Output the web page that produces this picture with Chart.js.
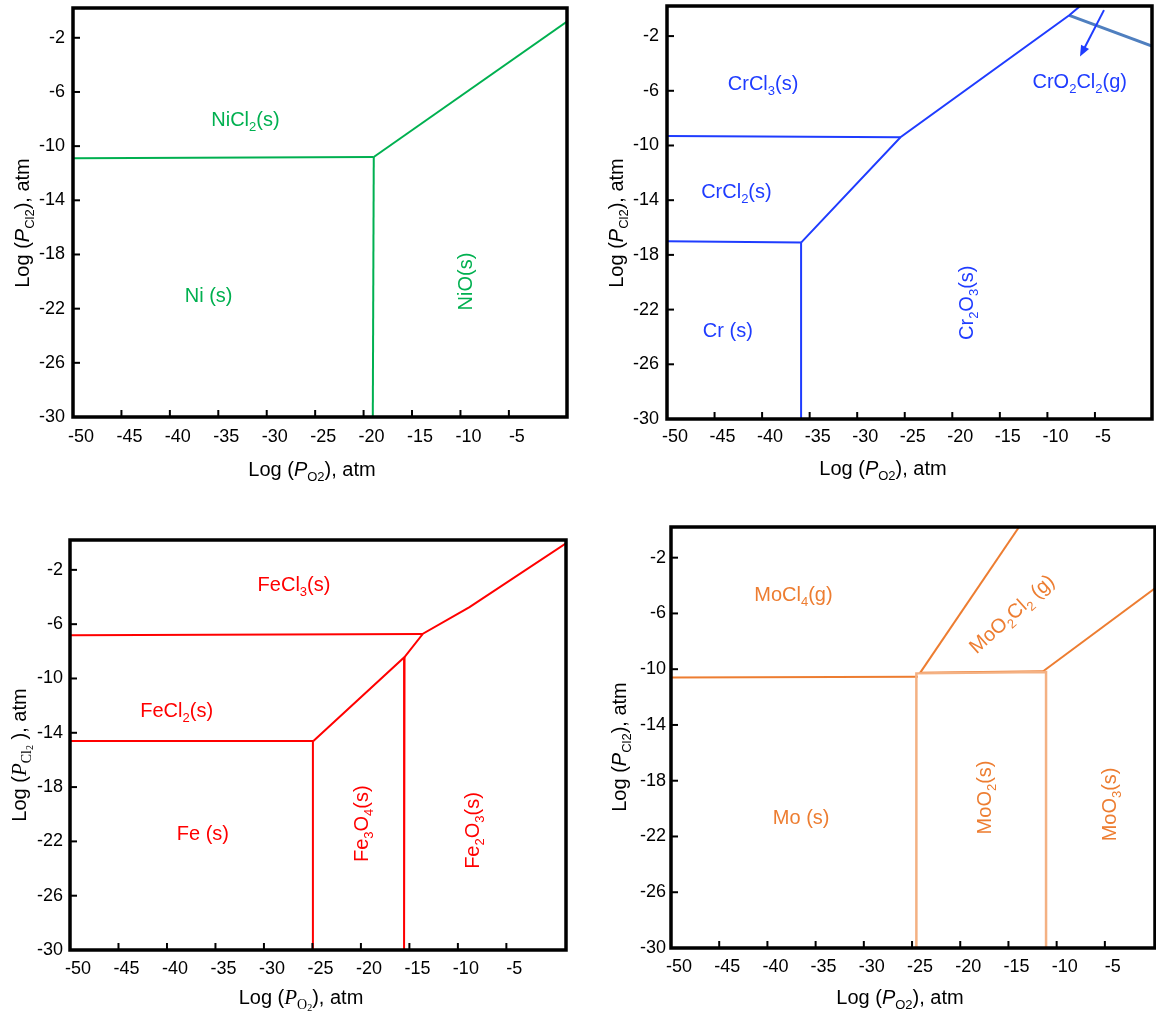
<!DOCTYPE html>
<html>
<head>
<meta charset="utf-8">
<script src="https://cdn.jsdelivr.net/npm/chart.js@4.4.1/dist/chart.umd.min.js"></script>
<style>
  body { margin: 0; background: #fff; }
  #wrap { position: relative; width: 1156px; height: 1012px; background: #fff; }
  canvas { position: absolute; }
</style>
</head>
<body>
<div id="wrap">
  <canvas id="ni" width="578" height="505" style="left:0;top:0"></canvas>
  <canvas id="cr" width="578" height="505" style="left:578px;top:0"></canvas>
  <canvas id="fe" width="578" height="507" style="left:0;top:505px"></canvas>
  <canvas id="mo" width="578" height="507" style="left:578px;top:505px"></canvas>
</div>
<script>
// ticks shared by the four diagrams
const xTicks = [-50, -45, -40, -35, -30, -25, -20, -15, -10, -5];
const yTicks = [-30, -26, -22, -18, -14, -10, -6, -2];

// Ni-O-Cl boundaries, points are [log pO2, log pCl2]
const niChlorideMetal = [[-50, -10.9], [-18.95, -10.8]];
const niMetalOxide = [[-18.95, -10.8], [-19.05, -30]];
const niChlorideOxide = [[-18.95, -10.8], [1, -0.8]];
const niLabels = ['NiCl_2(s)', 'Ni (s)', 'NiO(s)'];
const niLabelX = [-32.2, -36.0, -9.6];
const niLabelY = [-8.0, -21.0, -20.0];

// Cr-O-Cl boundaries
const crTriDi = [[-50, -9.3], [-25.45, -9.4]];
const crDiMetal = [[-50, -17.0], [-35.9, -17.1]];
const crMetalOxide = [[-35.9, -17.1], [-35.9, -30]];
const crChlorideOxide = [[-35.9, -17.1], [-25.45, -9.4], [-7.7, -0.48], [-6.55, 0.2]];
const crOxychloride = [[-7.7, -0.48], [1, -2.74]];
const crArrow = [[-4.05, -0.1], [-6.57, -3.5]];
const crLabels = ['CrCl_3(s)', 'CrO_2Cl_2(g)', 'CrCl_2(s)', 'Cr (s)', 'Cr_2O_3(s)'];
const crLabelX = [-39.9, -6.6, -42.7, -43.6, -18.6];
const crLabelY = [-5.4, -5.3, -13.3, -23.5, -21.5];

// Fe-O-Cl boundaries
const feTriDi = [[-50, -6.82], [-13.6, -6.72]];
const feDiMetal = [[-50, -14.6], [-24.9, -14.6]];
const feMetalOxide = [[-24.95, -14.6], [-24.95, -30]];
const feMagHem = [[-15.5, -8.42], [-15.55, -30]];
const feChlorideOxide = [[-24.9, -14.6], [-15.5, -8.42], [-13.6, -6.7], [-8.8, -4.75], [1.15, -0.05]];
const feLabels = ['FeCl_3(s)', 'FeCl_2(s)', 'Fe (s)', 'Fe_3O_4(s)', 'Fe_2O_3(s)'];
const feLabelX = [-26.9, -39.0, -36.3, -20.0, -8.6];
const feLabelY = [-3.0, -12.3, -21.4, -20.7, -21.2];

// Mo-O-Cl boundaries
const moChlorideMetal = [[-50, -10.6], [-24.4, -10.55]];
const moDioxideTop = [[-24.2, -10.25], [-11.3, -10.15]];
const moDioxideBox = [[-24.55, -30], [-24.55, -10.3], [-11.1, -10.2], [-11.1, -30]];
const moChlorideOxychloride = [[-24.2, -10.3], [-13.9, 0.2]];
const moOxychlorideTrioxide = [[-11.4, -10.15], [0.2, -4.2]];
const moLabels = ['MoCl_4(g)', 'MoO_2Cl_2 (g)', 'Mo (s)', 'MoO_2(s)', 'MoO_3(s)'];
const moLabelX = [-37.3, -14.7, -36.5, -17.6, -4.6];
const moLabelY = [-4.6, -6.0, -20.6, -19.2, -19.7];

const sansX = [['Log (', 'n'], ['P', 'i'], ['O2', 's'], ['), atm', 'n']];
const sansY = [['Log (', 'n'], ['P', 'i'], ['Cl2', 's'], ['), atm', 'n']];
const serifX = [['Log (', 'n'], ['P', 'I'], ['O', 'S'], ['2', 'T'], ['), atm', 'n']];
const serifY = [['Log (', 'n'], ['P', 'I'], ['Cl', 'S'], ['2', 'T'], [' ), atm', 'n']];

const GREEN = '#00b050', BLUE = '#1f3cff', RED = '#ff0000',
      ORANGE = '#ed7d31', PEACH = '#f4b183', STEEL = '#4f7fbf';

function fontFor(style, size) {
  switch (style) {
    case 'i': return { font: `italic ${size}px "Liberation Sans"`, dy: 0 };
    case 's': return { font: `${Math.round(size * 0.64)}px "Liberation Sans"`, dy: size * 0.25 };
    case 'I': return { font: `italic ${size * 1.05}px "Liberation Serif"`, dy: 0 };
    case 'S': return { font: `${Math.round(size * 0.72)}px "Liberation Serif"`, dy: size * 0.25 };
    case 'T': return { font: `${Math.round(size * 0.5)}px "Liberation Serif"`, dy: size * 0.33 };
    default: return { font: `${size}px "Liberation Sans"`, dy: 0 };
  }
}

// draws text made of [text, style] pieces centred on (x, y)
function drawRich(ctx, segs, x, y, size, angle, color) {
  ctx.save();
  ctx.translate(x, y);
  ctx.rotate(angle * Math.PI / 180);
  ctx.fillStyle = color;
  ctx.textAlign = 'left';
  ctx.textBaseline = 'alphabetic';
  let w = 0;
  const parts = segs.map(([t, s]) => {
    const f = fontFor(s, size);
    ctx.font = f.font;
    const pw = ctx.measureText(t).width;
    w += pw;
    return { t, f, pw };
  });
  let cx = -w / 2;
  parts.forEach(p => {
    ctx.font = p.f.font;
    ctx.fillText(p.t, cx, size * 0.36 + p.f.dy);
    cx += p.pw;
  });
  ctx.restore();
}

// "_x" marks a one character subscript
function parseLabel(str) {
  const segs = [];
  for (let i = 0; i < str.length; i++) {
    if (str[i] === '_') { segs.push([str[i + 1], 's']); i++; }
    else segs.push([str[i], 'n']);
  }
  return segs;
}

function makeDecor(cfg) {
  return {
    id: 'decor',
    afterDatasetsDraw(chart) {
      const { ctx, chartArea: a, scales: { x, y } } = chart;
      ctx.save();
      ctx.strokeStyle = '#000';
      ctx.lineWidth = 2;
      xTicks.forEach(v => {
        const px = x.getPixelForValue(v);
        ctx.beginPath(); ctx.moveTo(px, a.bottom); ctx.lineTo(px, a.bottom - 7); ctx.stroke();
      });
      yTicks.forEach(v => {
        const py = y.getPixelForValue(v);
        ctx.beginPath(); ctx.moveTo(a.left, py); ctx.lineTo(a.left + 7, py); ctx.stroke();
      });
      ctx.lineWidth = 3.5;
      ctx.strokeRect(a.left, a.top, a.right - a.left, a.bottom - a.top);

      if (cfg.arrow) {
        const x0 = x.getPixelForValue(cfg.arrow[0][0]), y0 = y.getPixelForValue(cfg.arrow[0][1]);
        const x1 = x.getPixelForValue(cfg.arrow[1][0]), y1 = y.getPixelForValue(cfg.arrow[1][1]);
        const ang = Math.atan2(y1 - y0, x1 - x0);
        ctx.strokeStyle = cfg.color; ctx.fillStyle = cfg.color; ctx.lineWidth = 2;
        ctx.beginPath(); ctx.moveTo(x0, y0);
        ctx.lineTo(x1 - 8 * Math.cos(ang), y1 - 8 * Math.sin(ang)); ctx.stroke();
        ctx.beginPath();
        ctx.moveTo(x1, y1);
        ctx.lineTo(x1 - 11 * Math.cos(ang) + 4.5 * Math.sin(ang), y1 - 11 * Math.sin(ang) - 4.5 * Math.cos(ang));
        ctx.lineTo(x1 - 11 * Math.cos(ang) - 4.5 * Math.sin(ang), y1 - 11 * Math.sin(ang) + 4.5 * Math.cos(ang));
        ctx.closePath(); ctx.fill();
      }

      cfg.labels.forEach((t, i) => {
        drawRich(ctx, parseLabel(t), x.getPixelForValue(cfg.labelX[i]), y.getPixelForValue(cfg.labelY[i]),
          20, cfg.labelAngles[i] || 0, cfg.color);
      });
      drawRich(ctx, cfg.xTitle, cfg.xTitleAt[0], cfg.xTitleAt[1], 20, 0, '#000');
      drawRich(ctx, cfg.yTitle, cfg.yTitleAt[0], cfg.yTitleAt[1], 20, -90, '#000');
      ctx.restore();
    }
  };
}

function createPanel(cfg) {
  const tickFont = { family: 'Liberation Sans', size: 18 };
  return new Chart(document.getElementById(cfg.id), {
    type: 'scatter',
    data: {
      datasets: cfg.lines.map(l => ({
        data: l.pts.map(([x, y]) => ({ x, y })),
        showLine: true,
        borderColor: l.color,
        borderWidth: l.width || 2,
        pointRadius: 0,
        fill: false
      }))
    },
    options: {
      responsive: false,
      animation: false,
      layout: { padding: { top: cfg.padTop, right: cfg.padRight, left: 0, bottom: 0 } },
      plugins: { legend: { display: false }, tooltip: { enabled: false } },
      scales: {
        x: {
          type: 'linear', min: -50, max: cfg.xMax,
          grid: { display: false, drawTicks: false },
          border: { display: false },
          ticks: { font: tickFont, color: '#000', padding: cfg.xPad, labelOffset: 8, maxRotation: 0, autoSkip: false, callback: v => String(v) },
          afterBuildTicks: s => { s.ticks = xTicks.map(v => ({ value: v })); },
          afterFit: s => { s.height = cfg.xAxisH; s.paddingLeft = 0; s.paddingRight = 0; }
        },
        y: {
          type: 'linear', min: -30, max: 0.2,
          grid: { display: false, drawTicks: false },
          border: { display: false },
          ticks: { font: tickFont, color: '#000', padding: cfg.yPad, autoSkip: false, callback: v => String(v) },
          afterBuildTicks: s => { s.ticks = yTicks.map(v => ({ value: v })); },
          afterFit: s => { s.width = cfg.yAxisW; s.paddingTop = 0; s.paddingBottom = 0; }
        }
      }
    },
    plugins: [makeDecor(cfg)]
  });
}

createPanel({
  id: 'ni', color: GREEN, xMax: 1,
  padTop: 8, padRight: 11, yAxisW: 73, xAxisH: 88, xPad: 9, yPad: 8,
  lines: [
    { pts: niChlorideMetal, color: GREEN },
    { pts: niMetalOxide, color: GREEN },
    { pts: niChlorideOxide, color: GREEN }
  ],
  labels: niLabels, labelX: niLabelX, labelY: niLabelY, labelAngles: [0, 0, -90],
  xTitle: sansX, yTitle: sansY, xTitleAt: [312, 469], yTitleAt: [22, 223]
});

createPanel({
  id: 'cr', color: BLUE, xMax: 1,
  padTop: 6, padRight: 4, yAxisW: 89, xAxisH: 86, xPad: 7, yPad: 8,
  lines: [
    { pts: crTriDi, color: BLUE },
    { pts: crDiMetal, color: BLUE },
    { pts: crMetalOxide, color: BLUE },
    { pts: crChlorideOxide, color: BLUE },
    { pts: crOxychloride, color: STEEL, width: 3 }
  ],
  arrow: crArrow,
  labels: crLabels, labelX: crLabelX, labelY: crLabelY, labelAngles: [0, 0, 0, 0, -90],
  xTitle: sansX, yTitle: sansY, xTitleAt: [305, 468], yTitleAt: [38, 223]
});

createPanel({
  id: 'fe', color: RED, xMax: 1.15,
  padTop: 35, padRight: 12, yAxisW: 70, xAxisH: 62, xPad: 8, yPad: 7,
  lines: [
    { pts: feTriDi, color: RED },
    { pts: feDiMetal, color: RED },
    { pts: feMetalOxide, color: RED },
    { pts: feMagHem, color: RED },
    { pts: feChlorideOxide, color: RED }
  ],
  labels: feLabels, labelX: feLabelX, labelY: feLabelY, labelAngles: [0, 0, 0, -90, -90],
  xTitle: serifX, yTitle: serifY, xTitleAt: [301, 492], yTitleAt: [19, 250]
});

createPanel({
  id: 'mo', color: ORANGE, xMax: 0.2,
  padTop: 22, padRight: 1, yAxisW: 93, xAxisH: 64, xPad: 8, yPad: 5,
  lines: [
    { pts: moDioxideBox, color: PEACH, width: 2.5 },
    { pts: moChlorideMetal, color: ORANGE },
    { pts: moDioxideTop, color: ORANGE },
    { pts: moChlorideOxychloride, color: ORANGE },
    { pts: moOxychlorideTrioxide, color: ORANGE }
  ],
  labels: moLabels, labelX: moLabelX, labelY: moLabelY, labelAngles: [0, -42, 0, -90, -90],
  xTitle: sansX, yTitle: sansY, xTitleAt: [322, 492], yTitleAt: [41, 242]
});
</script>
</body>
</html>
